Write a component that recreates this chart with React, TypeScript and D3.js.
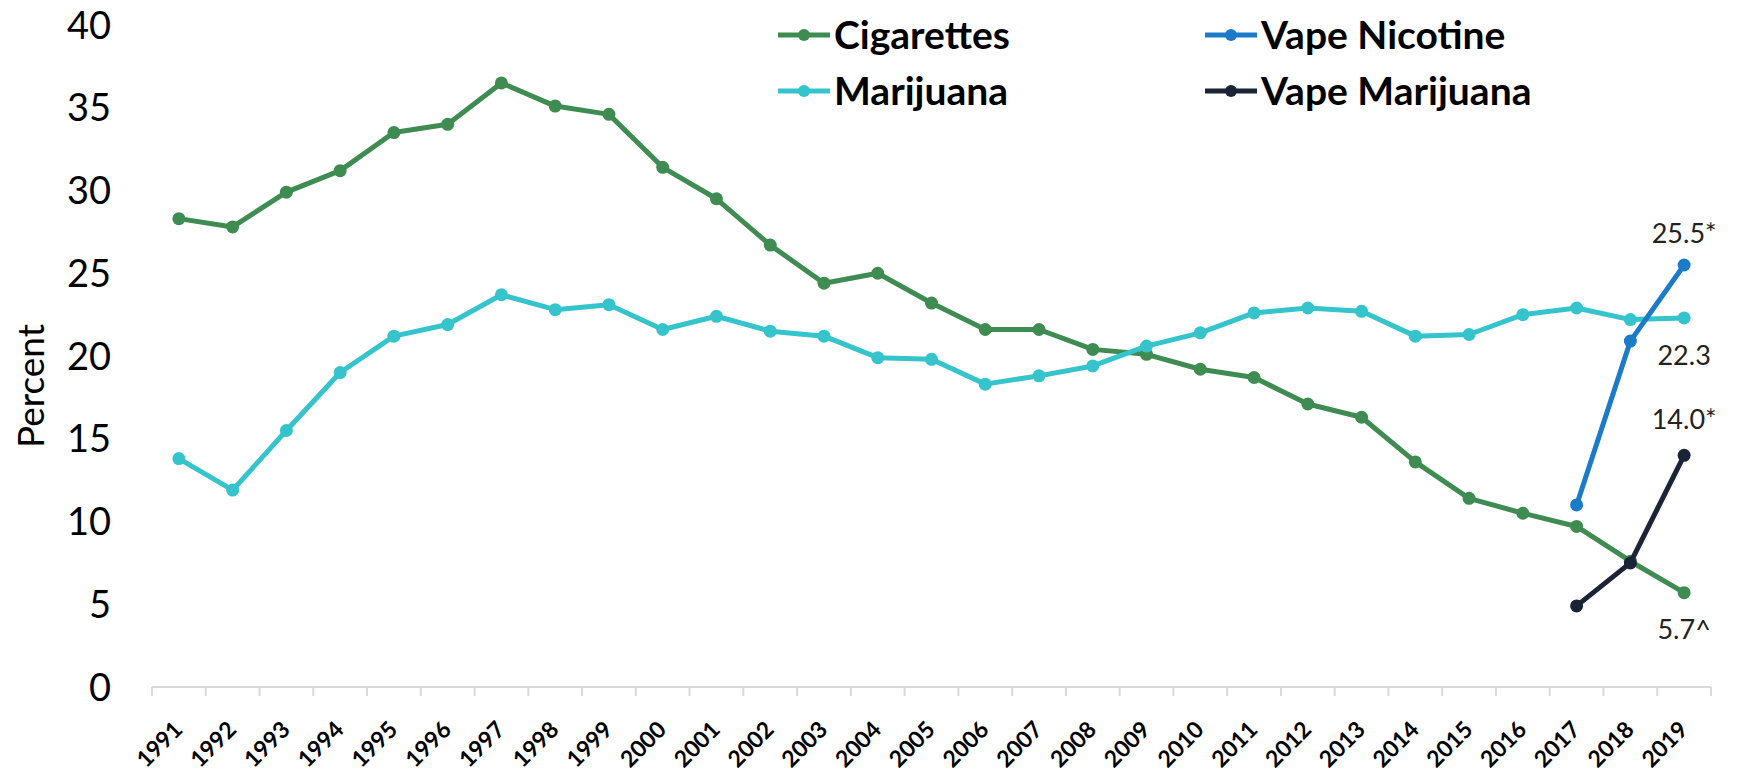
import React from "react";
import * as d3 from "d3";

const years = [
  "1991", "1992", "1993", "1994", "1995", "1996", "1997", "1998", "1999", "2000",
  "2001", "2002", "2003", "2004", "2005", "2006", "2007", "2008", "2009", "2010",
  "2011", "2012", "2013", "2014", "2015", "2016", "2017", "2018", "2019",
];

const cigarettes = [
  28.3, 27.8, 29.9, 31.2, 33.5, 34.0, 36.5, 35.1, 34.6, 31.4,
  29.5, 26.7, 24.4, 25.0, 23.2, 21.6, 21.6, 20.4, 20.1, 19.2,
  18.7, 17.1, 16.3, 13.6, 11.4, 10.5, 9.7, 7.6, 5.7,
];

const marijuana = [
  13.8, 11.9, 15.5, 19.0, 21.2, 21.9, 23.7, 22.8, 23.1, 21.6,
  22.4, 21.5, 21.2, 19.9, 19.8, 18.3, 18.8, 19.4, 20.6, 21.4,
  22.6, 22.9, 22.7, 21.2, 21.3, 22.5, 22.9, 22.2, 22.3,
];

const vapeYears = ["2017", "2018", "2019"];
const vapeNicotine = [11.0, 20.9, 25.5];
const vapeMarijuana = [4.9, 7.5, 14.0];

const yTicks = [0, 5, 10, 15, 20, 25, 30, 35, 40];

const W = 1739;
const H = 773;
const FONT = "Lato, 'Open Sans', sans-serif";

type Pt = { year: string; value: number };

const zip = (ys: string[], vs: number[]): Pt[] => ys.map((y, i) => ({ year: y, value: vs[i] }));

const series = [
  { name: "Cigarettes", color: "#3f8c52", data: zip(years, cigarettes) },
  { name: "Marijuana", color: "#35c4cc", data: zip(years, marijuana) },
  { name: "Vape Nicotine", color: "#1c7bc9", data: zip(vapeYears, vapeNicotine) },
  { name: "Vape Marijuana", color: "#1b2336", data: zip(vapeYears, vapeMarijuana) },
];

const legendPos = [
  { x: 778, y: 35 },
  { x: 778, y: 91 },
  { x: 1205, y: 35 },
  { x: 1205, y: 91 },
];

export default function App() {
  const x = d3.scaleBand<string>().domain(years).range([152, 1711]).padding(0);
  const y = d3.scaleLinear().domain([0, 40]).range([687, 25]);
  const bw = x.bandwidth();
  const cx = (yr: string) => (x(yr) || 0) + bw / 2;

  const line = d3
    .line<Pt>()
    .x((d) => cx(d.year))
    .y((d) => y(d.value));

  const last = years[years.length - 1];

  return (
    <div style={{ position: "absolute", left: 0, top: 0 }}>
      <svg width={W} height={H} style={{ display: "block", background: "#fff" }} fontFamily={FONT}>
        {/* y tick labels */}
        {yTicks.map((t) => (
          <text key={t} x={111} y={y(t)} dy="0.36em" textAnchor="end" fontSize={38} fill="#000">
            {t}
          </text>
        ))}
        <text
          transform={`translate(31,386) rotate(-90)`}
          textAnchor="middle"
          dy="0.36em"
          fontSize={37}
          fill="#000"
        >
          Percent
        </text>

        {/* x axis */}
        <line x1={152} x2={1711} y1={687} y2={687} stroke="#d9d9d9" strokeWidth={2} />
        {d3.range(years.length + 1).map((i) => (
          <line
            key={i}
            x1={152 + i * bw}
            x2={152 + i * bw}
            y1={687}
            y2={696}
            stroke="#d9d9d9"
            strokeWidth={2}
          />
        ))}
        {years.map((yr) => (
          <text
            key={yr}
            transform={`translate(${cx(yr) + 5},${731}) rotate(-45)`}
            textAnchor="end"
            fontSize={23}
            fontWeight="bold"
            fill="#000"
          >
            {yr}
          </text>
        ))}

        {/* series */}
        {series.map((s) => (
          <g key={s.name}>
            <path d={line(s.data) || ""} fill="none" stroke={s.color} strokeWidth={5} strokeLinejoin="round" />
            {s.data.map((d) => (
              <circle key={d.year} cx={cx(d.year)} cy={y(d.value)} r={6.5} fill={s.color} />
            ))}
          </g>
        ))}

        {/* end labels */}
        <text x={cx(last)} y={y(25.5) - 22} textAnchor="middle" fontSize={27} fill="#222">
          25.5*
        </text>
        <text x={cx(last)} y={y(22.3) + 47} textAnchor="middle" fontSize={27} fill="#222">
          22.3
        </text>
        <text x={cx(last)} y={y(14.0) - 26} textAnchor="middle" fontSize={27} fill="#222">
          14.0*
        </text>
        <text x={cx(last)} y={y(5.7) + 46} textAnchor="middle" fontSize={27} fill="#222">
          5.7^
        </text>

        {/* legend */}
        {series.map((s, i) => (
          <g key={s.name} transform={`translate(${legendPos[i].x},${legendPos[i].y})`}>
            <line x1={0} x2={52} y1={0} y2={0} stroke={s.color} strokeWidth={5} />
            <circle cx={26} cy={0} r={6} fill={s.color} />
            <text x={56} y={0} dy="0.36em" fontSize={39} fontWeight="bold" fill="#000">
              {s.name}
            </text>
          </g>
        ))}
      </svg>
    </div>
  );
}
